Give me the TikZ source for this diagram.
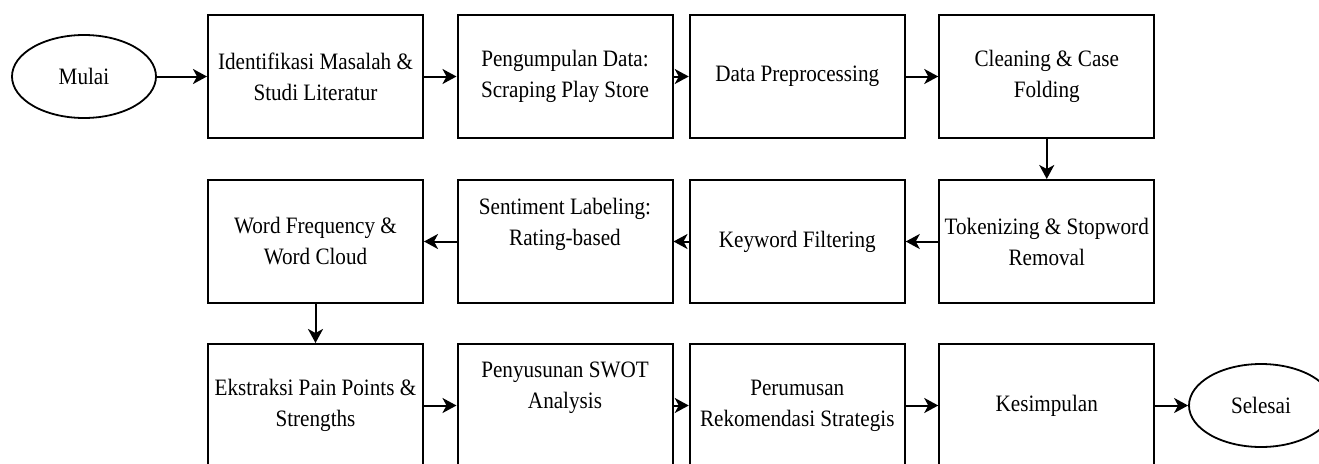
\documentclass[tikz,border=0pt]{standalone}
\usepackage{fontspec}
\setmainfont{Liberation Serif}[FakeStretch=0.9]
\usetikzlibrary{arrows.meta,shapes.geometric}
\begin{document}
\begin{tikzpicture}[x=1pt,y=-1pt,
  txt/.style={font=\fontsize{23.5}{31}\selectfont},
  stepbox/.style={draw, line width=2pt, rectangle, minimum width=215pt,
    minimum height=123pt, inner sep=0pt, align=center, txt},
  terminal/.style={draw, line width=1.8pt, ellipse, minimum width=144pt,
    minimum height=83pt, inner sep=0pt, txt},
  flow/.style={line width=2pt, -{Stealth[length=14pt,width=15pt,inset=4pt]}}]

% canvas
\useasboundingbox (0,0) rectangle (1319,463);
\clip (0,0) rectangle (1319,463);
\fill[white] (0,0) rectangle (1319,463);

% column and row centres
\def\cA{315.5}\def\cB{565}\def\cC{797.25}\def\cD{1046.75}
\def\rA{76.5}\def\rB{241.5}\def\rC{405.5}

% row 1
\node[terminal] (start) at (84,\rA) {Mulai};
\node[stepbox] (idm) at (\cA,\rA) {Identifikasi Masalah \&\\Studi Literatur};
\node[stepbox] (pd)  at (\cB,\rA) {Pengumpulan Data:\\Scraping Play Store};
\node[stepbox] (dp)  at (\cC,\rA) {Data Preprocessing};
\node[stepbox] (cf)  at (\cD,\rA) {Cleaning \& Case\\Folding};

% row 2 (right to left)
\node[stepbox] (tok) at (\cD,\rB) {Tokenizing \& Stopword\\Removal};
\node[stepbox] (kw)  at (\cC,\rB) {Keyword Filtering};
\node[stepbox] (sl)  at (\cB,\rB) {Sentiment Labeling:\\Rating-based\\\strut};
\node[stepbox] (wf)  at (\cA,\rB) {Word Frequency \&\\Word Cloud};

% row 3
\node[stepbox] (ex)  at (\cA,\rC) {Ekstraksi Pain Points \&\\Strengths};
\node[stepbox] (sw)  at (\cB,\rC) {Penyusunan SWOT\\Analysis\\\strut};
\node[stepbox] (rk)  at (\cC,\rC) {Perumusan\\Rekomendasi Strategis};
\node[stepbox] (ks)  at (\cD,\rC) {Kesimpulan};
\node[terminal] (end) at (1261,\rC) {Selesai};

% connectors
\draw[flow] (start) -- (idm);
\draw[flow] (idm) -- (pd);
\draw[flow] (pd) -- (dp);
\draw[flow] (dp) -- (cf);
\draw[flow] (cf) -- (tok);
\draw[flow] (tok) -- (kw);
\draw[flow] (kw) -- (sl);
\draw[flow] (sl) -- (wf);
\draw[flow] (wf) -- (ex);
\draw[flow] (ex) -- (sw);
\draw[flow] (sw) -- (rk);
\draw[flow] (rk) -- (ks);
\draw[flow] (ks) -- (end);
\end{tikzpicture}
\end{document}
